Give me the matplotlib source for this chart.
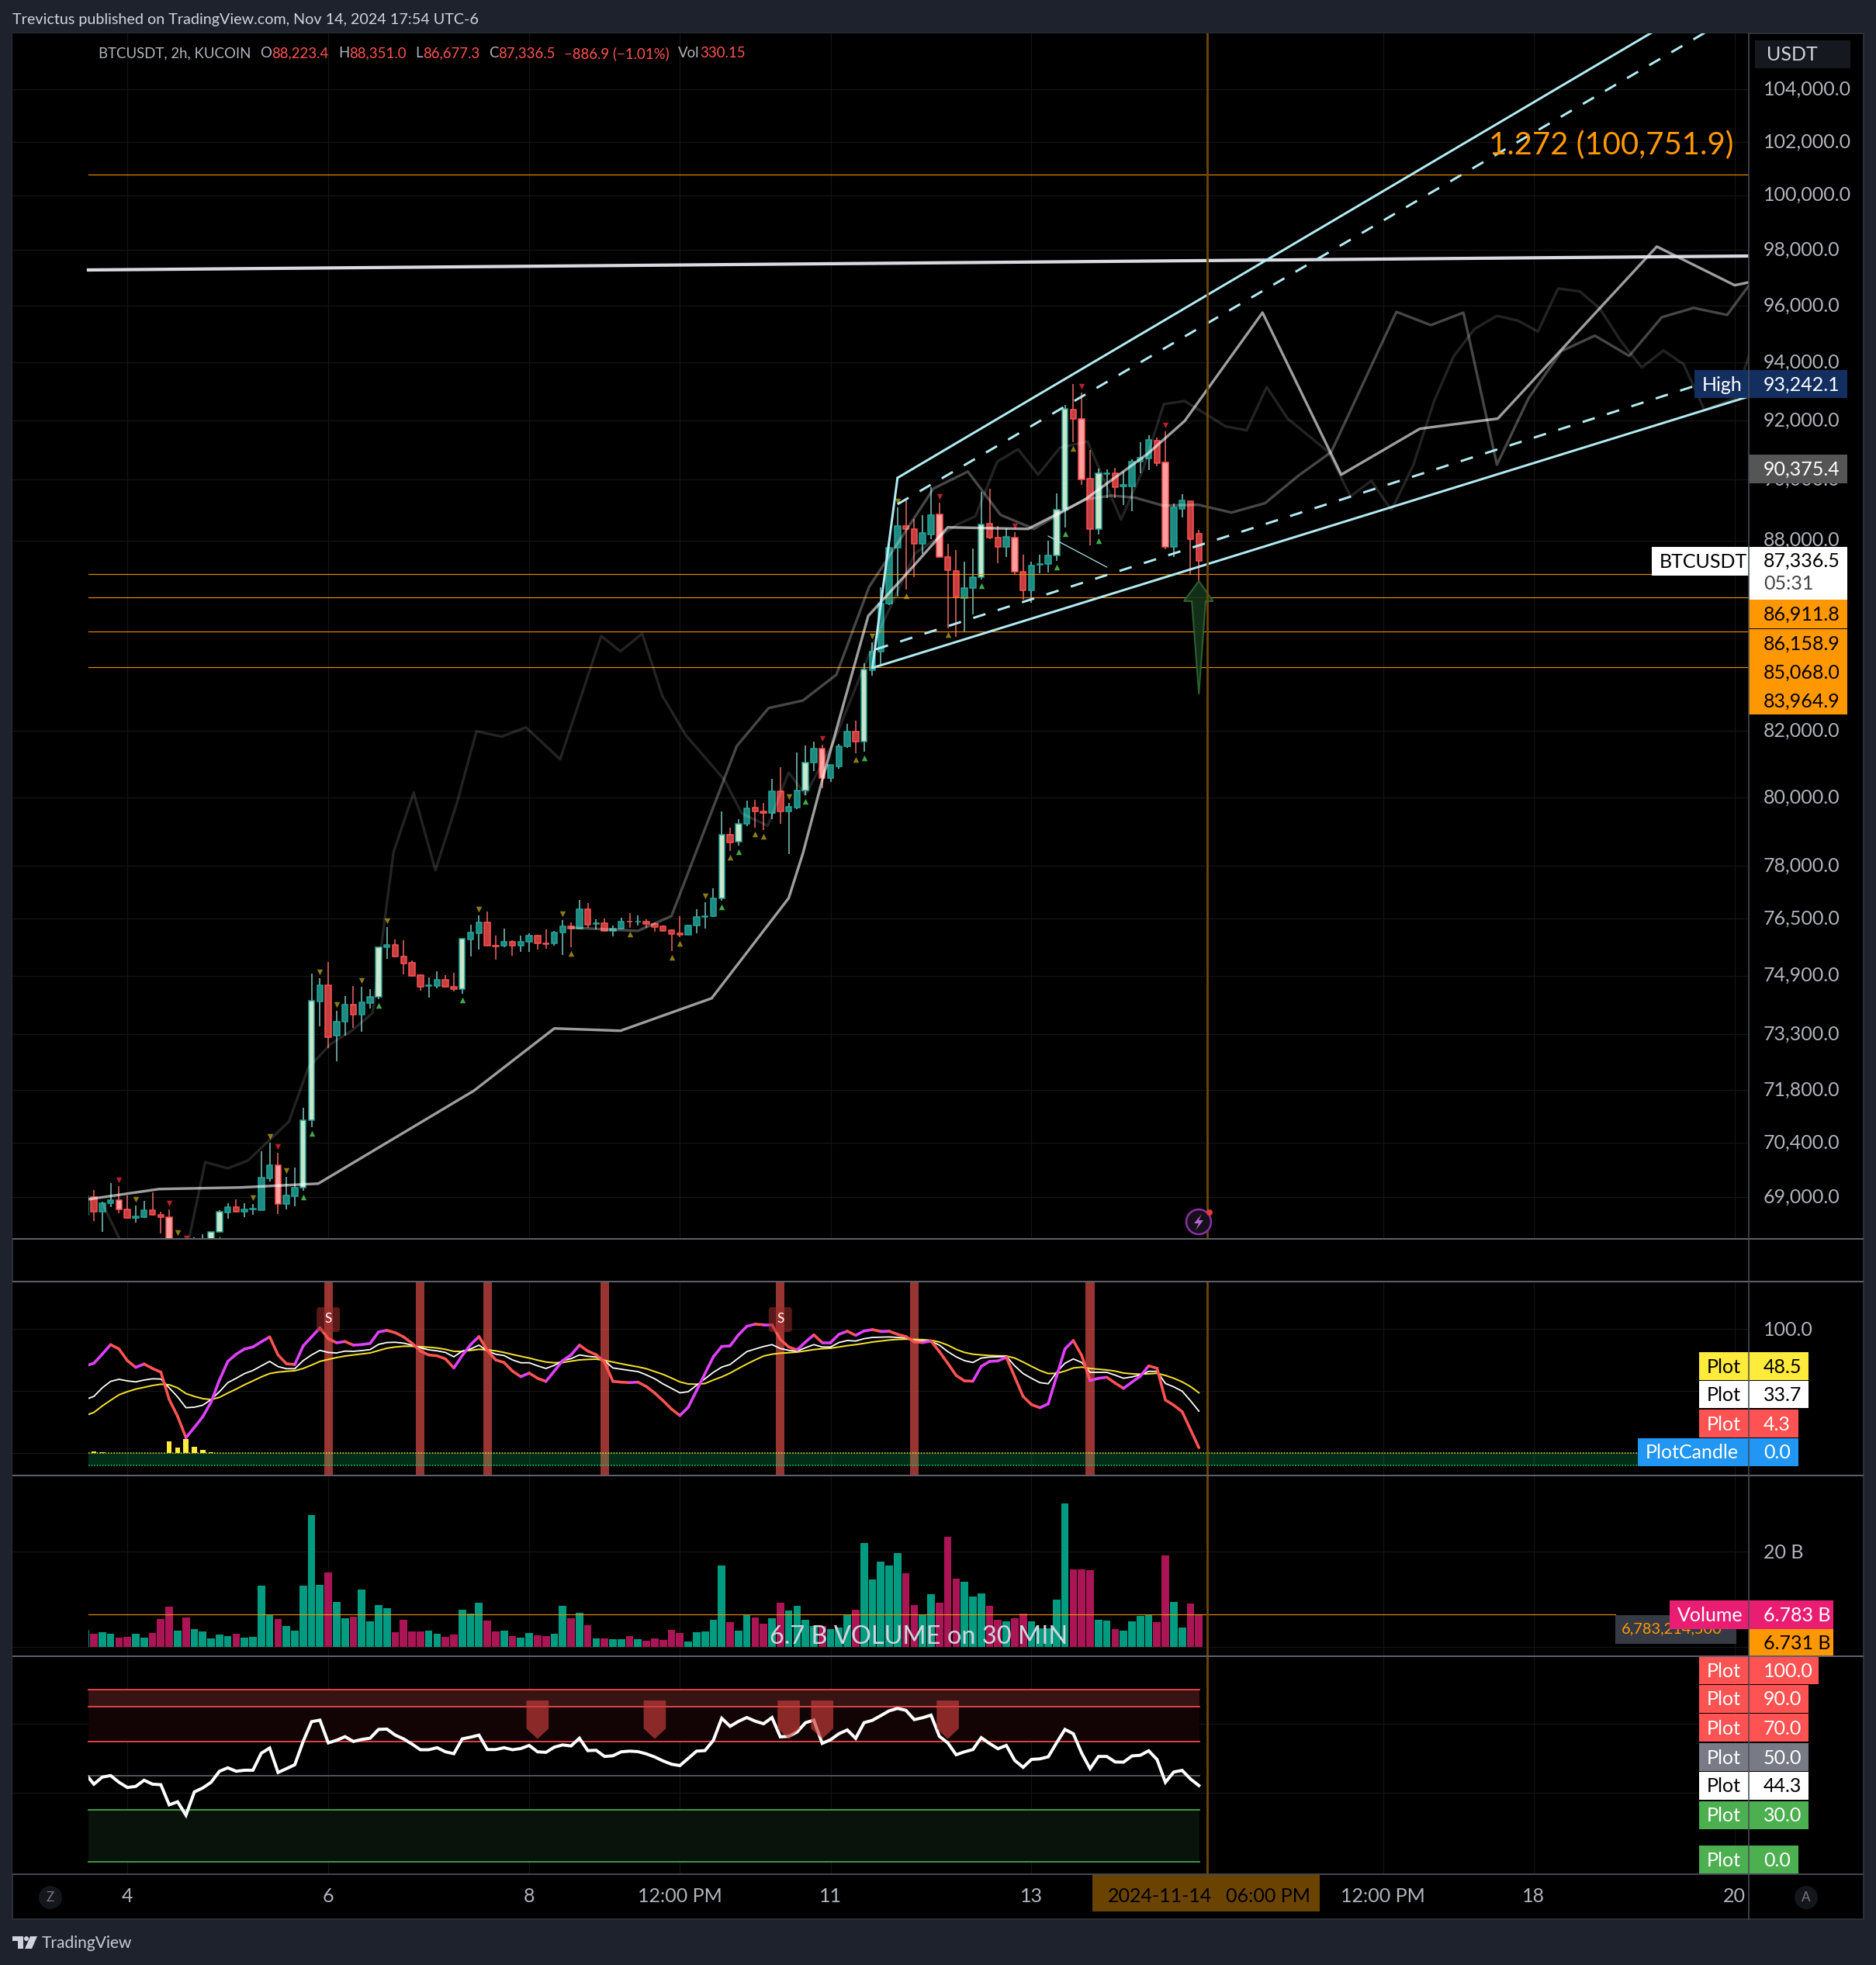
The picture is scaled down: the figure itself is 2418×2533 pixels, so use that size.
import numpy as np
import matplotlib
matplotlib.use("Agg")
import matplotlib.pyplot as plt
from matplotlib.collections import LineCollection
from matplotlib.patches import Rectangle, Polygon, Circle, FancyBboxPatch
from matplotlib.ticker import FixedLocator, FixedFormatter, NullLocator
from matplotlib.transforms import Affine2D, Bbox, TransformedBbox

plt.rcParams['font.family'] = ['Lato', 'DejaVu Sans']

# ------------------------------------------------------------------ data
# 2h bars; the first entry is the bar cut off by the left edge of the plotted range
opens = [68600,69070,68690,68898,68980,68740,68536,68558,68717,68604,68558,67500,67800,67500,67700,67913,68168,68672,68815,68694,68747,
 68732,69545,69874,68891,69087,69293,71045,74255,74688,73306,73685,74173,73896,74214,74369,75748,75814,75506,75315,74969,74672,74672,
 74837,74664,74598,75981,76156,76450,75797,75789,75898,75806,75898,76073,75864,75856,76181,76340,76290,76821,76416,76425,76223,
 76270,76484,76469,76484,76410,76351,76233,76144,76115,76358,76602,76624,77134,78977,78771,79292,79769,79670,79607,80252,79652,79787,
 80279,81113,81527,80644,81012,81601,82048,81740,83933,84517,86037,87825,88534,88433,87954,88273,88918,87525,87089,86213,86527,86872,
 88615,88154,87855,88154,87050,86448,87277,87296,87575,89080,92438,92114,90107,88433,90270,90281,89862,89862,90671,90796,91383,90651,
 87855,89110,89352,88223]
highs = [69080,69240,68950,69423,69331,69100,68845,68966,69179,68687,68747,67996,67860,68033,68108,68168,68725,68898,69011,68898,68883,
 70237,70469,70198,69584,69820,71374,75010,74887,75340,74002,74394,74672,74655,74590,75748,76323,75973,75956,75390,74994,74911,75084,
 74977,75043,75990,76390,76652,76762,76081,76281,75956,76081,76148,76106,76256,76206,76526,76458,77090,76998,76543,76568,76357,
 76595,76728,76661,76551,76462,76366,76255,76639,76395,76839,77038,77437,79671,79184,79436,79978,80015,79924,80635,80984,79924,81426,
 81629,81740,81647,81048,81675,82300,82393,84153,84806,86556,87954,89160,89383,88767,88908,89821,89312,87954,87754,87385,87804,89668,
 89770,88534,88474,88353,87605,87375,87605,88054,89617,92595,93322,93018,91074,90455,90434,90465,90332,90764,91342,91570,91497,91694,
 89292,89597,89363,88351]
lows = [68600,68460,68183,68808,68657,68530,68408,68536,68590,68145,67300,67300,67300,67400,67600,67883,68150,68506,68672,68558,68611,
 68717,69469,68634,68747,68823,69224,70880,73572,72983,72633,73314,73524,73419,74059,74304,75439,75464,75002,74944,74549,74361,74614,
 74639,74532,74467,75497,75689,75789,75406,75756,75522,75622,75622,75689,75714,75789,75539,75748,76256,76298,76248,76190,76065,
 76248,76292,76373,76307,76196,76203,75642,76041,76108,76159,76285,76602,77083,78512,78664,79220,79184,79112,79427,79292,78423,79724,
 80133,80864,80361,80525,80938,81555,81398,81444,83762,84125,85979,86252,86487,86892,87625,88104,87505,85249,84979,85153,85686,86813,
 88104,87326,87525,86990,86154,86057,87010,87040,87405,88504,91342,89893,87904,88273,89464,89464,89241,89029,90281,90383,90517,87775,
 87535,88837,86960,86677]
closes = [69080,68690,68900,68981,68740,68536,68566,68717,68604,68558,67500,67750,67500,67700,67920,68170,68680,68815,68694,68747,68762,
 69553,69874,68891,69095,69293,71045,74263,74688,73282,73685,74173,73896,74222,74369,75748,75814,75497,75307,74961,74664,74697,74837,
 74664,74598,75990,76165,76450,75789,75781,75898,75806,75898,76073,75856,75848,76181,76340,76290,76821,76400,76433,76223,76273,
 76477,76469,76484,76403,76329,76225,76137,76115,76373,76610,76639,77142,78979,78762,79292,79751,79652,79607,80252,79652,79796,80279,
 81113,81536,80653,81039,81601,82048,81740,83953,84517,86037,87835,88534,88433,87954,88313,88898,87525,87099,86252,86527,86882,88605,
 88154,87855,88184,87050,86448,87247,87316,87575,89080,92459,92114,90097,88433,90281,90291,89832,89893,90671,90806,91404,90630,87855,
 89150,89383,88124,87336]
LAST_BAR = (88223.4, 88351.0, 86677.3, 87336.5)
READ_SCALE = 0.99914          # my readings of the candles sit 3 px high on the log scale
highlighted = [14,15,25,26,34,44,75,77,85,92,106,115,116,120,3,9,22,87,101,110,118,128]
marker_olive_down = [5,10,19,21,23,27,29,32,35,46,56,73,83,93,96]
marker_red_down = [3,9,11,22,87,101,110,118,128]
marker_green_up = [15,25,26,34,44,75,77,85,92,106,115,116,120]
marker_olive_up = [8,57,64,69,70,76,79,80,91,97,102,117]

overlay_a_idx = [-0.5,7.8,17.5,26.8,45.4,55,62.9,73.8,83,84.7,87,92.5,97,102,111.6,118.3,125.9,130.3,139.6,149,158.4,167.7,186.7,196,197.8]
overlay_a_val = [68950,69207,69247,69346,71774,73448,73385,74273,77081,78369,80515,85570,86890,88425,88373,89321,90870,91977,95743,90166,91713,92058,98114,96718,96830]
overlay_b_idx = [57,65,69,76.8,80.6,84.7,88.7,92.6,100.3,104.4,108.3,112.3,118.3,121.6,124.4,127.7,131.9,135.9,139.9,143.9,147.8,155.6,159.7,163.6,167.6,171.4,175.3,179.3,183.4,187.3,191.1,195.1,197.8]
overlay_b_val = [76240,76150,76570,81546,82700,82932,83730,86494,89705,90270,88834,88373,89340,89470,89400,89140,89167,88910,89220,90135,90923,95770,95300,95743,90500,92765,94387,94930,94220,95580,95910,95660,96750]
overlay_c_idx = [1.1,3.2,8,11.3,13.3,16,18.4,23.3,25.6,28.3,30.8,33.3,35.8,38.2,40.8,43.4,45.7,48.7,51.6,55.7,60.6,62.9,65.5,67.9,70.7,75.3,77.4,80.5,83,85,88.4,93.2,98.1,103.2,105.3,107.9,110.4,112.8,115.4,118.7,122.7,125.3,127.8,130.3,135.2,137.7,140.1,142.6,147.5,150.1,152.6,155,157.6,160.1,162.4,164.9,167.6,170.1,172.5,174.9,177.5,179.9,182.4,184.9,187.5,189.9,192.4,196.1,197.8]
overlay_c_val = [68810,67880,66800,67880,69900,69740,69940,70960,72379,73030,73385,73870,78410,80150,77880,79870,81992,81830,82110,81147,84939,84455,85010,83077,81875,80537,79534,79170,80750,80080,81687,84745,87580,88527,88784,90600,91020,90166,91070,91280,88680,90320,92550,92660,91790,91660,93140,92058,90923,89445,89960,88990,90475,92660,94190,95160,95630,95460,95075,96600,96500,95880,94740,93820,94410,93930,92350,92765,94330]

level_prices = [100751.9, 86911.8, 86158.9, 85068.0, 83964.9]
price_ticks = [104000,102000,100000,98000,96000,94000,92000,90000,88000,82000,80000,78000,76500,74900,73300,71800,70400,69000]
time_tick_idx = [4,28,52,70,88,112,154,172,196]
time_tick_labels = ['4','6','8','12:00 PM','11','13','12:00 PM','18','20']

channel_solid_low = ([93,197.7],[83940,92817])
channel_join = ([93,96],[83940,90060])
channel_solid_up = ([96,197.7],[90060,108485])
channel_dash_up = ([96,197.7],[89185,107216])
channel_dash_low = ([93.4,197.7],[84518,93781])
short_ray = ([114,121],[88140,87132])
long_level = ([-0.65,197.7],[97267,97771])

arrow_idx = [132,133.7,132.8,132,131.15,130.2]
arrow_val = [86684,86038,86038,83124,86038,86038]

stoch_k = [70.2,72.3,79.6,87.3,83.8,74.4,69.0,71.7,68.1,65.2,43.1,29.6,12.3,20.6,29.2,41.0,58.8,73.8,79.6,83.8,85.4,89.6,93.5,79.0,71.9,71.3,86.3,93.5,100.8,92.1,88.8,89.8,86.9,87.3,88.3,97.5,98.8,96.9,93.5,88.5,82.1,79.0,78.3,75.8,68.5,78.5,87.3,93.8,82.7,75.0,72.9,66.0,61.5,64.4,60.2,57.7,66.0,74.4,79.0,86.9,82.1,79.2,73.3,57.7,57.1,56.7,57.1,53.5,48.3,42.1,35.4,30.2,36.9,50.4,64.0,77.5,85.8,86.3,95.2,102.1,103.8,103.3,103.3,91.5,85.4,83.1,89.4,95.2,89.0,89.0,95.6,98.1,94.8,98.3,99.4,97.9,98.1,95.6,93.8,89.6,89.0,90.2,81.7,72.3,62.5,58.1,57.9,69.8,73.8,74.2,77.1,61.3,45.6,39.0,36.5,39.6,61.9,83.8,90.6,78.5,58.3,60.2,61.0,56.3,52.1,57.1,61.9,70.2,68.3,42.7,38.5,33.3,18.8,4.3]
stoch_d = [43.1,45.6,52.5,57.7,59.4,58.1,57.3,58.8,59.8,59.6,52.5,45.2,36.5,36.9,38.5,43.1,49.4,56.7,60.2,64.0,66.5,70.2,73.8,69.6,67.9,67.9,74.4,79.0,82.7,81.0,80.6,82.1,81.9,82.5,83.3,87.5,89.0,89.2,88.5,86.9,84.8,83.1,82.3,81.0,77.5,82.1,83.8,86.9,82.3,79.6,78.5,75.0,72.7,72.7,70.2,68.1,70.6,74.4,76.0,79.0,77.9,77.3,74.4,68.5,67.5,66.5,65.6,62.9,59.8,55.6,52.1,48.5,49.4,54.6,59.8,65.0,69.2,71.3,76.5,81.7,83.8,85.8,87.3,84.2,82.7,82.1,84.8,87.3,85.4,85.4,89.0,90.6,90.2,92.1,93.1,93.3,93.5,93.1,92.7,90.6,90.2,90.0,86.9,81.7,77.5,74.4,72.9,76.5,77.3,77.5,77.9,70.2,64.0,60.2,56.7,55.8,65.0,72.3,75.8,72.9,65.0,65.0,65.0,62.7,60.2,61.3,62.9,65.8,65.8,56.0,53.3,49.8,42.1,33.7]
stoch_signal = [30.2,32.7,37.9,42.5,46.9,49.4,51.5,52.9,54.4,55.4,55.0,52.5,47.9,45.6,43.8,43.1,44.8,48.3,51.5,55.0,58.1,61.3,64.0,65.2,65.8,66.3,68.1,70.8,73.8,75.4,76.9,78.1,79.0,79.8,80.6,82.5,84.4,85.4,86.0,86.0,85.6,85.2,84.6,83.5,81.9,81.9,82.7,83.5,83.1,82.3,81.0,79.4,77.9,76.5,74.8,73.3,72.7,72.9,74.0,75.0,75.4,75.6,74.6,73.3,71.9,70.6,69.4,67.9,65.6,63.3,60.4,57.3,55.6,55.4,56.0,58.8,61.3,64.4,68.1,71.7,75.0,78.1,79.6,80.4,80.8,81.3,82.3,83.3,84.0,84.4,85.4,86.5,87.3,88.3,89.4,90.2,91.0,91.5,91.7,91.5,91.3,90.8,89.4,86.9,83.5,81.0,79.6,79.0,78.5,78.3,78.1,76.5,73.3,69.8,66.5,64.0,64.2,66.0,68.5,69.2,68.1,67.5,66.9,66.0,64.4,63.8,63.5,63.8,64.2,62.5,60.2,57.3,53.5,48.5]
hist_idx = [-1,0,1,9,10,11,12,13,14]
hist_val = [3.1,1.5,0.8,9.6,4.6,11.5,5.2,2.7,0.8]
signal_bars = [28,39,47,61,82,98,119]
s_labels = [28,82]

volume_b = [3.58,2.76,3.09,2.76,1.95,2.11,2.76,1.95,2.93,5.85,8.46,3.41,6.18,3.74,3.25,1.79,2.60,2.28,2.76,1.95,2.11,12.85,6.67,5.85,4.39,3.41,12.85,27.64,13.01,15.61,9.43,6.02,6.34,12.03,5.37,8.78,8.13,3.09,5.69,3.25,3.25,3.41,2.76,2.11,2.60,7.80,6.99,9.27,5.53,3.25,3.41,2.28,1.95,2.93,2.44,2.28,2.76,8.62,6.02,7.15,4.55,1.79,1.79,1.63,1.63,2.28,1.63,1.30,1.79,1.46,3.58,2.93,1.14,3.09,3.25,5.69,17.07,5.20,3.41,6.67,6.18,4.88,6.02,9.27,7.64,8.62,5.69,4.39,4.39,3.74,4.07,6.67,7.80,21.79,14.15,17.89,17.07,19.67,15.45,8.78,6.67,11.06,9.27,23.09,14.31,13.66,10.57,11.22,8.62,5.69,5.37,6.02,6.99,5.37,3.90,3.90,9.92,30.08,16.26,16.26,16.10,5.69,5.53,3.74,3.41,5.37,6.50,6.67,5.20,19.19,9.43,4.07,9.11,6.78]
volume_level = 6.783

rsi = [51.1,45.1,49.2,50.1,46.2,43.2,43.8,47.4,45.1,44.8,33.1,34.9,27.1,40.6,42.9,46.2,52.6,54.6,52.6,53.2,53.2,63.1,66.1,51.9,54.1,56.4,69.9,81.4,82.3,69.1,70.6,72.7,69.9,71.1,71.8,76.9,77.1,73.6,71.4,68.4,65.1,65.1,66.3,63.9,62.8,71.4,72.4,73.6,65.2,65.2,66.3,65.1,65.8,67.6,63.9,63.6,66.6,67.9,67.3,71.8,64.6,64.8,61.2,61.6,63.9,64.3,64.0,62.7,60.9,58.6,56.7,55.9,60.1,64.3,64.6,70.6,83.4,78.7,81.6,83.8,81.7,80.2,83.8,72.6,72.9,75.4,80.8,82.3,68.8,70.9,74.4,76.6,71.7,80.8,82.2,84.9,87.7,89.1,88.0,82.6,83.7,85.2,72.9,69.1,62.2,63.9,65.2,72.1,68.7,65.7,67.6,58.9,54.9,59.5,59.8,61.0,69.1,76.9,74.4,63.1,54.1,61.2,61.2,58.0,57.9,61.5,61.9,64.5,59.4,46.2,52.2,53.1,48.1,44.3]
rsi_levels_red = [100,90,70]
rsi_levels_green = [30,0]
rsi_flags = [53,67,83,87,102]

# ------------------------------------------------------------------ layout helpers
W, H = 2418, 2533
DPI = 100
BG, BLACK, GRID = '#1e222d', '#000000', '#151515'
SCALE_X = 2254
X0, PX = 121.0, 10.79          # pixel of bar 0, pixels per bar
XMIN = (16 - X0) / PX
XMAX = (SCALE_X - X0) / PX
PLOT_L = (114 - X0) / PX
PLOT_R = (1546 - X0) / PX
Y_LOW, Y_HIGH = 67941, 106174

fig = plt.figure(figsize=(W / DPI, H / DPI), dpi=DPI, facecolor=BG)


def px(v):
    return v * 72.0 / DPI


def pane(y0, y1):
    a = fig.add_axes([16 / W, 1 - y1 / H, (SCALE_X - 16) / W, (y1 - y0) / H], facecolor=BLACK, zorder=2)
    for s in a.spines.values():
        s.set_visible(False)
    a.set_xlim(XMIN, XMAX)
    a.xaxis.set_major_locator(FixedLocator(time_tick_idx))
    a.grid(True, color=GRID, lw=px(1.2))
    a.set_axisbelow(True)
    a.yaxis.tick_right()
    a.tick_params(axis='both', length=0, labelbottom=False, labelsize=px(25), labelcolor='#b2b5be', pad=px(19))
    return a


backdrop = fig.add_axes([16 / W, 1 - 2474 / H, (2402 - 16) / W, (2474 - 43) / H], facecolor=BLACK, zorder=1)
backdrop.set_xticks([]); backdrop.set_yticks([])
for s in backdrop.spines.values():
    s.set_color('#2a2e39'); s.set_linewidth(px(2))

ax_main = pane(43, 1597)
ax_st = pane(1652, 1902)
ax_vol = pane(1902, 2135)
ax_rsi = pane(2135, 2416)

idx = np.arange(-1, 133)
O = np.array(opens, float) * READ_SCALE
Hi = np.array(highs, float) * READ_SCALE
Lo = np.array(lows, float) * READ_SCALE
C = np.array(closes, float) * READ_SCALE
O[-1], Hi[-1], Lo[-1], C[-1] = LAST_BAR
up = C >= O
hl = np.isin(idx, highlighted)

# ------------------------------------------------------------------ main pane
ax_main.set_yscale('log')
ax_main.set_ylim(Y_LOW, Y_HIGH)
ax_main.yaxis.set_major_locator(FixedLocator(price_ticks))
ax_main.yaxis.set_major_formatter(FixedFormatter([f'{t:,.1f}' for t in price_ticks]))
ax_main.yaxis.set_minor_locator(NullLocator())
ax_main.xaxis.set_minor_locator(NullLocator())
ax_main.tick_params(axis='y', which='both', length=0)

plot_clip = TransformedBbox(Bbox([[PLOT_L, Y_LOW], [XMAX, Y_HIGH]]), ax_main.transData)

wicks = ax_main.vlines(idx, Lo, Hi, colors=['#80cbc4' if u else '#f26a6a' for u in up], lw=px(1.5), zorder=3)
wicks.set_clip_box(plot_clip)
face = []
edge = []
for u, h in zip(up, hl):
    if u:
        face.append('#c8e6c9' if h else '#1c8a80'); edge.append('#26a69a')
    else:
        face.append('#ff9e9e' if h else '#c73e3e'); edge.append('#ff5252')
bodies = ax_main.bar(idx, np.abs(C - O), bottom=np.minimum(O, C), width=0.69, color=face, edgecolor=edge, lw=px(1.5), zorder=4)
for b in bodies:
    b.set_clip_box(plot_clip)
ax_main.set_ylim(Y_LOW, Y_HIGH)

pos = {int(i): k for k, i in enumerate(idx)}
MK_UP, MK_DN = np.exp(8 / 3481), np.exp(-8 / 3481)
for lst, side, col, mk in [(marker_olive_down, 1, '#8c7c14', 'v'), (marker_red_down, 1, '#b3202f', 'v'),
                           (marker_green_up, -1, '#41a84c', '^'), (marker_olive_up, -1, '#8c7c14', '^')]:
    ys = [Hi[pos[i]] * MK_UP if side > 0 else Lo[pos[i]] * MK_DN for i in lst]
    ax_main.scatter(lst, ys, s=px(7.5) ** 2, marker=mk, color=col, lw=0, zorder=5)

for p in level_prices:
    ax_main.plot([PLOT_L, XMAX], [p, p], color='#ff9800', lw=px(1.2), alpha=0.9, zorder=6)

ax_main.plot(overlay_c_idx, overlay_c_val, color='white', alpha=0.14, lw=px(3.4), zorder=6)
ax_main.plot(overlay_b_idx, overlay_b_val, color='white', alpha=0.28, lw=px(3.4), zorder=6)
ax_main.plot(overlay_a_idx, overlay_a_val, color='white', alpha=0.62, lw=px(3.4), zorder=6)
ax_main.plot(*long_level, color='#e6e6ee', alpha=0.95, lw=px(4.2), zorder=7)

CY = '#b2ebf2'
for ch in (channel_solid_low, channel_join, channel_solid_up):
    ax_main.plot(*ch, color=CY, lw=px(3), zorder=7, solid_capstyle='round')
for ch in (channel_dash_up, channel_dash_low):
    ax_main.plot(*ch, color=CY, lw=px(3), zorder=7, dashes=(5.5, 5.5))
ax_main.plot(*short_ray, color=CY, lw=px(1.2), zorder=7)
ax_main.add_patch(Polygon(np.column_stack([arrow_idx, arrow_val]), closed=True, fc='#17351a', ec='#2e6b34', lw=px(2), alpha=0.9, zorder=7))

# ------------------------------------------------------------------ oscillator pane
ax_st.set_ylim(-18.1, 138.1)
ax_st.yaxis.set_major_locator(FixedLocator([100]))
ax_st.yaxis.set_major_formatter(FixedFormatter(['100.0']))
ax_st.axhline(50, color=GRID, lw=px(1.2), zorder=1)
ax_st.axhline(0, color=GRID, lw=px(1.2), zorder=1)
st_clip = TransformedBbox(Bbox([[PLOT_L, -20], [XMAX, 140]]), ax_st.transData)
for i in signal_bars:
    ax_st.axvspan(i - 0.52, i + 0.52, color='#ff5a52', alpha=0.6, lw=0, zorder=2)
ax_st.fill_between([PLOT_L, XMAX], -10, 0, color='#00e676', alpha=0.2, lw=0, zorder=3)
ax_st.plot([PLOT_L, XMAX], [0, 0], color='#ffeb3b', lw=px(1.5), ls=(0, (1, 1.4)), zorder=4)
ax_st.plot([PLOT_L, XMAX], [-10, -10], color='#00e676', lw=px(1.5), ls=(0, (1, 1.4)), zorder=4)
hb = ax_st.bar(hist_idx, hist_val, width=0.62, color='#ffeb3b', lw=0, zorder=4)
for b in hb:
    b.set_clip_box(st_clip)
l1, = ax_st.plot(idx, stoch_signal, color='#f4e02c', lw=px(2.0), zorder=5)
l2, = ax_st.plot(idx, stoch_d, color='white', lw=px(1.8), zorder=5)
l1.set_clip_box(st_clip); l2.set_clip_box(st_clip)
k = np.array(stoch_k)
segs = [[(idx[n], k[n]), (idx[n + 1], k[n + 1])] for n in range(len(k) - 1)]
cols = ['#e040fb' if k[n + 1] >= k[n] else '#ff5252' for n in range(len(k) - 1)]
lc = LineCollection(segs, colors=cols, lw=px(3.6), capstyle='round', zorder=6)
ax_st.add_collection(lc)
lc.set_clip_box(st_clip)

# ------------------------------------------------------------------ volume pane
ax_vol.set_ylim(-1.95, 35.93)
ax_vol.yaxis.set_major_locator(FixedLocator([20]))
ax_vol.yaxis.set_major_formatter(FixedFormatter(['20 B']))
ax_vol.axhline(0, color=GRID, lw=px(1.2), zorder=1)
vol_clip = TransformedBbox(Bbox([[PLOT_L, -2], [XMAX, 36]]), ax_vol.transData)
vb = ax_vol.bar(idx, volume_b, width=0.9, color=['#009b80' if u else '#ab1556' for u in up], lw=0, zorder=3)
for b in vb:
    b.set_clip_box(vol_clip)
ax_vol.plot([PLOT_L, (2082 - X0) / PX], [volume_level] * 2, color='#ff9800', lw=px(1.2), alpha=0.9, zorder=4)

# ------------------------------------------------------------------ RSI pane
ax_rsi.set_ylim(-7.2, 119.4)
ax_rsi.yaxis.set_major_locator(FixedLocator([]))
ax_rsi.axhline(80, color=GRID, lw=px(1.2), zorder=1)
ax_rsi.axhline(40, color=GRID, lw=px(1.2), zorder=1)
ax_rsi.fill_between([PLOT_L, PLOT_R], 90, 100, color='#381313', lw=0, zorder=2)
ax_rsi.fill_between([PLOT_L, PLOT_R], 70, 90, color='#120404', lw=0, zorder=2)
ax_rsi.fill_between([PLOT_L, PLOT_R], 0, 30, color='#09120b', lw=0, zorder=2)
for v in rsi_levels_red:
    ax_rsi.plot([PLOT_L, PLOT_R], [v, v], color='#f04a4a', lw=px(1.8), zorder=3)
ax_rsi.plot([PLOT_L, PLOT_R], [50, 50], color='#5a5a60', lw=px(1.8), zorder=3)
for v in rsi_levels_green:
    ax_rsi.plot([PLOT_L, PLOT_R], [v, v], color='#46a64c', lw=px(1.8), zorder=3)
rsi_line, = ax_rsi.plot(idx, rsi, color='white', lw=px(4), zorder=4, solid_joinstyle='miter')
rsi_line.set_clip_box(TransformedBbox(Bbox([[PLOT_L, -8], [XMAX, 120]]), ax_rsi.transData))
for i in rsi_flags:
    ax_rsi.add_patch(Polygon([(i - 1.325, 93.7), (i + 1.325, 93.7), (i + 1.325, 77.4), (i, 71.4), (i - 1.325, 77.4)],
                             closed=True, fc='#c63c3c', ec='none', alpha=0.68, zorder=5))
ax_rsi.xaxis.set_major_formatter(FixedFormatter(time_tick_labels))
ax_rsi.tick_params(axis='x', labelbottom=True, pad=px(17))

# crosshair
for a in (ax_main, ax_st, ax_vol, ax_rsi):
    a.axvline(133, color='#6e480c', lw=px(2.8), zorder=8)

# price labels sit 3 px above their gridlines
for lab in ax_main.get_yticklabels():
    lab.set_transform(lab.get_transform() + Affine2D().translate(0, 2))

# ------------------------------------------------------------------ overlay (chrome and tags, in pixels)
ov = fig.add_axes([0, 0, 1, 1], zorder=10)
ov.set_xlim(0, W); ov.set_ylim(H, 0)
ov.axis('off')
ov.patch.set_alpha(0)
FS = px(25)


def tag(x0, x1, y0, y1, color, tc, value, name=None, value_x=2273):
    ov.add_patch(Rectangle((x0, y0), x1 - x0, y1 - y0, fc=color, ec='none', zorder=3))
    ov.text(value_x, (y0 + y1) / 2 + 1, value, color=tc, fontsize=FS, va='center', ha='left', zorder=4)
    if name:
        ov.text(x0 + 10, (y0 + y1) / 2 + 1, name, color=tc, fontsize=FS, va='center', ha='left', zorder=4)


# header
ov.text(16, 25, 'Trevictus published on TradingView.com, Nov 14, 2024 17:54 UTC-6', color='#d1d4dc', fontsize=px(19.8), va='center')
GREY, RED = '#b2b5be', '#ff5252'
for x, s, c in [(127, 'BTCUSDT, 2h, KUCOIN', GREY), (335, 'O', GREY), (350, '88,223.4', RED), (436, 'H', GREY), (450, '88,351.0', RED),
                (535, 'L', GREY), (545, '86,677.3', RED), (630, 'C', GREY), (642, '87,336.5', RED),
                (727, '\u2212886.9 (\u22121.01%)', RED), (874, 'Vol', GREY), (902, '330.15', RED)]:
    ov.text(x, 69, s, color=c, fontsize=px(18.6), va='center')

ov.add_patch(Rectangle((2262, 52), 123, 36, fc='#15181f', ec='none'))
ov.text(2277, 71, 'USDT', color='#d1d4dc', fontsize=FS, va='center')

ov.text(2234, 187, '1.272 (100,751.9)', color='#ff9800', fontsize=px(40), va='center', ha='right')
ov.text(1184, 2110, '6.7 B VOLUME on 30 MIN', color='#d1d4dc', fontsize=px(32.5), va='center', ha='center', zorder=2)

# trade-signal S labels
for i in s_labels:
    cx = X0 + PX * i
    ov.add_patch(FancyBboxPatch((cx - 13, 1687), 26, 28, boxstyle='round,pad=2,rounding_size=4', fc='#a02c2c', ec='none', alpha=0.55))
    ov.text(cx, 1700, 'S', color='white', fontsize=px(17), ha='center', va='center')

# alert icon
ov.add_patch(Circle((1545, 1575), 16, fc='#15101c', ec='#8e2fa8', lw=px(2.5)))
ov.add_patch(Polygon([(1549, 1565), (1539, 1577), (1545, 1577), (1541, 1586), (1551, 1573), (1545, 1573)], fc='#b865cc', ec='none'))
ov.add_patch(Circle((1559, 1563), 4, fc='#e53935', ec='none'))

# right-hand tags
tag(2184, 2381, 477, 513, '#132f60', 'white', '93,242.1', 'High')
tag(2254, 2381, 586, 623, '#555555', 'white', '90,375.4')
tag(2129, SCALE_X, 705, 742, 'white', 'black', '', 'BTCUSDT')
ov.add_patch(Rectangle((SCALE_X, 705), 127, 68, fc='white', ec='none', zorder=3))
ov.text(2273, 723, '87,336.5', color='black', fontsize=FS, va='center', zorder=4)
ov.text(2273, 753, '05:31', color='#444444', fontsize=FS, va='center', zorder=4)
for (y0, y1), s in zip([(773, 810), (811, 848), (848, 885), (885, 921)], ['86,911.8', '86,158.9', '85,068.0', '83,964.9']):
    tag(SCALE_X, 2381, y0, y1, '#ff9800', 'black', s)

YEL, WHT, REDT, BLUE = '#ffeb3b', '#ffffff', '#ff5252', '#2196f3'
tag(2190, 2331, 1743, 1779, YEL, 'black', '48.5', 'Plot')
tag(2190, 2331, 1780, 1815, WHT, 'black', '33.7', 'Plot')
tag(2190, 2318, 1817, 1853, REDT, 'white', '4.3', 'Plot')
tag(2111, 2318, 1854, 1890, BLUE, 'white', '0.0', 'PlotCandle')

ov.add_patch(Rectangle((2082, 2082), 156, 37, fc='#363a45', ec='none', zorder=2))
ov.text(2090, 2100, '6,783,214,500', color='#ff9800', fontsize=px(20), va='center', zorder=2)
tag(2152, 2363, 2063, 2100, '#e91e73', 'white', '6.783 B', 'Volume')
tag(SCALE_X, 2363, 2100, 2135, '#ff9800', 'black', '6.731 B')

tag(2190, 2344, 2136, 2171, REDT, 'white', '100.0', 'Plot')
tag(2190, 2331, 2172, 2208, REDT, 'white', '90.0', 'Plot')
tag(2190, 2331, 2209, 2245, REDT, 'white', '70.0', 'Plot')
tag(2190, 2331, 2247, 2283, '#787b86', 'white', '50.0', 'Plot')
tag(2190, 2331, 2284, 2320, WHT, 'black', '44.3', 'Plot')
tag(2190, 2331, 2322, 2358, '#4caf50', 'white', '30.0', 'Plot')
tag(2190, 2318, 2379, 2415, '#4caf50', 'white', '0.0', 'Plot')

# crosshair date tag
ov.add_patch(Rectangle((1408, 2416), 293, 48, fc='#6b4300', ec='none', zorder=3))
ov.text(1428, 2444, '2024-11-14', color='black', fontsize=FS, va='center', zorder=4)
ov.text(1580, 2444, '06:00 PM', color='black', fontsize=FS, va='center', zorder=4)

# separators
for y, c in [(1597, '#5d606b'), (1652, '#5d606b'), (1902, '#5d606b'), (2135, '#5d606b'), (2416, '#434651')]:
    ov.plot([16, 2402], [y, y], color=c, lw=px(2), zorder=5, solid_capstyle='butt')
ov.plot([SCALE_X, SCALE_X], [43, 2474], color='#4a4d57', lw=px(1.6), zorder=5)

# corner buttons
for x, s in [(65, 'Z'), (2328, 'A')]:
    ov.add_patch(Circle((x, 2446), 15, fc='#14161c', ec='none'))
    ov.text(x, 2446, s, color='#787b86', fontsize=px(17), ha='center', va='center')

# logo
LOGO = '#d1d4dc'
ov.add_patch(Polygon([(16, 2496), (30, 2496), (30, 2512), (23, 2512), (23, 2502), (16, 2502)], fc=LOGO, ec='none'))
ov.add_patch(Circle((34, 2499), 3, fc=LOGO, ec='none'))
ov.add_patch(Polygon([(39, 2496), (48, 2496), (41, 2512), (32, 2512)], fc=LOGO, ec='none'))
ov.text(54, 2505, 'TradingView', color='#c8ccd8', fontsize=px(21), va='center')

fig.savefig('out.png', dpi=DPI, facecolor=BG)
